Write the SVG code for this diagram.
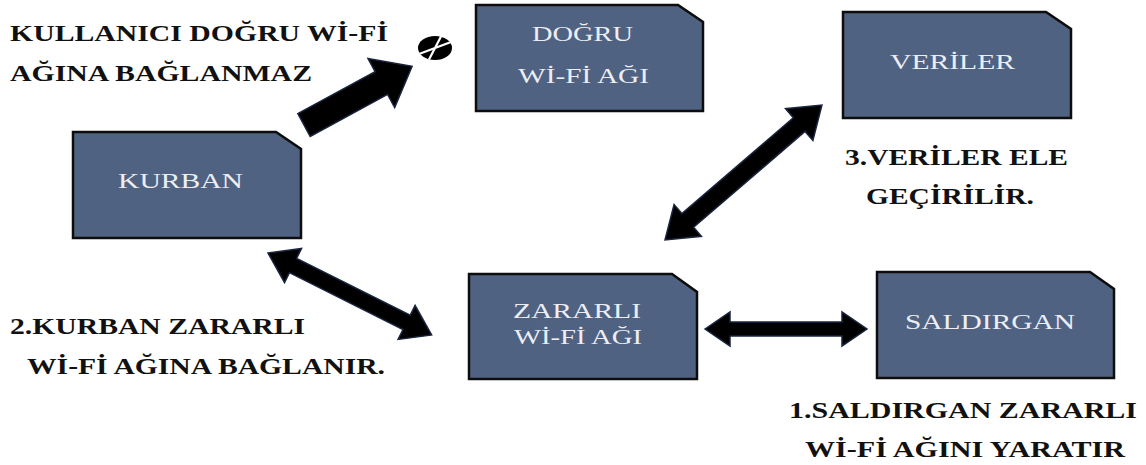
<svg xmlns="http://www.w3.org/2000/svg" width="1146" height="465" viewBox="0 0 1146 465">
<style>
.box{fill:#506282;stroke:#0d0d0d;stroke-width:2.5;stroke-linejoin:miter}
.nt{font-family:"Liberation Serif","Times New Roman",serif;font-size:20px;fill:#eceef4}
.lb{font-family:"Liberation Serif","Times New Roman",serif;font-size:24px;font-weight:bold;fill:#111}
.arr{fill:#000;stroke:#1a2540;stroke-width:1.5;stroke-linejoin:miter}
</style>
<rect width="1146" height="465" fill="#fff"/>
<g id="connectors">
<path class="arr" transform="translate(304,125) rotate(-28.5)" d="M0,-13 L88,-13 L88,-28 L123,0 L88,28 L88,13 L0,13 Z"/>
<path class="arr" transform="translate(268,253) rotate(26.6)" d="M0,0 L28,-19 L28,-8 L155,-8 L155,-19 L183,0 L155,19 L155,8 L28,8 L28,19 Z"/>
<path class="arr" transform="translate(665,240) rotate(-40.7)" d="M0,0 L30,-21 L30,-9 L177,-9 L177,-21 L207,0 L177,21 L177,9 L30,9 L30,21 Z"/>
<path class="arr" d="M705,329 L730,312 L730,322 L842,322 L842,312 L867,329 L842,346 L842,336 L730,336 L730,346 Z"/>
</g>
<g id="blocked">
<ellipse cx="435" cy="48" rx="17" ry="12" fill="#000"/>
<path d="M419,54 L451,42 M441,36.5 L429,59.5" stroke="#fff" stroke-width="2.2"/>
</g>
<g id="kurban">
<path class="box" d="M73,132 H276 L301,149 V238 H73 Z"/>
<text class="nt" x="118" y="188" textLength="125" lengthAdjust="spacingAndGlyphs">KURBAN</text>
</g>
<g id="dogru">
<path class="box" d="M476,5 H678 L703,22 V111 H476 Z"/>
<text class="nt" x="532" y="41" textLength="101" lengthAdjust="spacingAndGlyphs">DOĞRU</text>
<text class="nt" x="518" y="83" textLength="131" lengthAdjust="spacingAndGlyphs">Wİ-Fİ AĞI</text>
</g>
<g id="veriler">
<path class="box" d="M843,12 H1046 L1071,29 V118 H843 Z"/>
<text class="nt" x="890" y="69" textLength="125" lengthAdjust="spacingAndGlyphs">VERİLER</text>
</g>
<g id="zararli">
<path class="box" d="M469,274 H672 L697,292 V379 H469 Z"/>
<text class="nt" x="513" y="318" textLength="128" lengthAdjust="spacingAndGlyphs">ZARARLI</text>
<text class="nt" x="514" y="344" textLength="128" lengthAdjust="spacingAndGlyphs">Wİ-Fİ AĞI</text>
</g>
<g id="saldirgan">
<path class="box" d="M877,272 H1090 L1114,289 V378 H877 Z"/>
<text class="nt" x="905" y="329" textLength="170" lengthAdjust="spacingAndGlyphs">SALDIRGAN</text>
</g>
<g id="labels">
<text class="lb" x="10" y="41" textLength="378" lengthAdjust="spacingAndGlyphs">KULLANICI DOĞRU Wİ-Fİ</text>
<text class="lb" x="10" y="81" textLength="302" lengthAdjust="spacingAndGlyphs">AĞINA BAĞLANMAZ</text>
<text class="lb" x="845" y="165" textLength="223" lengthAdjust="spacingAndGlyphs">3.VERİLER ELE</text>
<text class="lb" x="866" y="204" textLength="168" lengthAdjust="spacingAndGlyphs">GEÇİRİLİR.</text>
<text class="lb" x="10" y="334" textLength="295" lengthAdjust="spacingAndGlyphs">2.KURBAN ZARARLI</text>
<text class="lb" x="27" y="374" textLength="358" lengthAdjust="spacingAndGlyphs">Wİ-Fİ AĞINA BAĞLANIR.</text>
<text class="lb" x="789" y="418" textLength="348" lengthAdjust="spacingAndGlyphs">1.SALDIRGAN ZARARLI</text>
<text class="lb" x="805" y="457" textLength="320" lengthAdjust="spacingAndGlyphs">Wİ-Fİ AĞINI YARATIR</text>
</g>
</svg>
